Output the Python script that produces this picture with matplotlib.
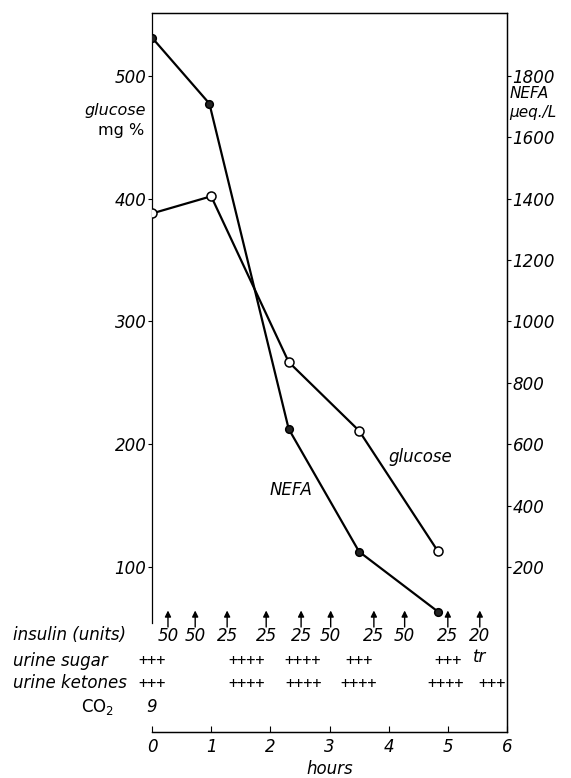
import matplotlib
matplotlib.use("Agg")
import matplotlib.pyplot as plt

plt.rcParams['font.family'] = ['DejaVu Sans']
plt.rcParams['font.size'] = 12

# values
glucose_hours = [0, 1.0, 2.31, 3.5, 4.83]
glucose = [388, 402, 267, 211, 113]          # mg %
nefa_hours = [0, 0.97, 2.31, 3.5, 4.83]
nefa = [1925, 1710, 650, 250, 55]            # ueq./L

insulin_hours = [0.27, 0.73, 1.27, 1.93, 2.52, 3.02, 3.75, 4.27, 5.0, 5.54]
insulin_units = [50, 50, 25, 25, 25, 50, 25, 50, 25, 20]
sugar_hours = [0, 1.6, 2.55, 3.5, 5.0]
sugar_marks = ['+++', '++++', '++++', '+++', '+++']
ketone_hours = [0, 1.6, 2.57, 3.5, 4.97, 5.74]
ketone_marks = ['+++', '++++', '++++', '++++', '++++', '+++']

W, H = 571, 778
fig = plt.figure(figsize=(W / 100, H / 100), dpi=100)
ax = fig.add_axes([152 / W, 1 - 732 / H, 355 / W, 719 / H])

lo, hi = -34.4, 551.3
ax.set_ylim(lo, hi)
ax.set_xlim(0, 6)
ax2 = ax.twinx()
ax2.set_ylim(200 + (lo - 100) * 4, 200 + (hi - 100) * 4)

ax.plot(glucose_hours, glucose, color='k', lw=1.6, marker='o', ms=6.5,
        mfc='white', mec='k', mew=1.1, zorder=3)
ax2.plot(nefa_hours, nefa, color='k', lw=1.6, marker='o', ms=5.5,
         mfc='#222222', mec='k', mew=1.1, zorder=3)

it = dict(style='italic')
ax.set_yticks([100, 200, 300, 400, 500])
ax.set_yticklabels(['100', '200', '300', '400', '500'], **it)
ax2.set_yticks(range(200, 1801, 200))
ax2.set_yticklabels([str(v) for v in range(200, 1801, 200)], **it)
ax.set_xticks(range(7))
ax.set_xticklabels([str(v) for v in range(7)], **it)
ax.tick_params(axis='y', direction='out', length=3, width=0.8, pad=1)
ax2.tick_params(axis='y', direction='out', length=3, width=0.8, pad=1)
ax.tick_params(axis='x', direction='in', length=4, width=0.8, pad=4)
ax.set_xlabel('hours', **it, labelpad=3)

for a in (ax, ax2):
    for s in a.spines.values():
        s.set_linewidth(0.9)
ax.spines['left'].set_bounds(54, hi)
ax2.spines['left'].set_visible(False)

def px(x, y):
    return x / W, 1 - y / H

# axis titles
fig.text(*px(146, 111), 'glucose', ha='right', va='center', fontsize=11.5, **it)
fig.text(*px(144, 131), 'mg %', ha='right', va='center', fontsize=11.5)
fig.text(*px(510, 93), 'NEFA', ha='left', va='center', fontsize=11, **it)
fig.text(*px(509, 112), 'μeq./L', ha='left', va='center', fontsize=11, **it)

# line labels
ax.text(4.0, 500 - (457 - 76) / 1.2275, 'glucose', ha='left', va='center', **it)
ax.text(1.99, 500 - (490 - 76) / 1.2275, 'NEFA', ha='left', va='center', **it)

# insulin arrows and doses
tr = ax.get_xaxis_transform()
for h, u in zip(insulin_hours, insulin_units):
    ax.annotate('', xy=(h, 0.169), xytext=(h, 0.146), xycoords=tr, textcoords=tr,
                arrowprops=dict(arrowstyle='-|>', color='k', lw=1, mutation_scale=9,
                                shrinkA=0, shrinkB=0))
    ax.text(h, 0.1335, str(u), transform=tr, ha='center', va='center', **it)
ax.text(5.54, 0.104, 'tr', transform=tr, ha='center', va='center', **it)

for h, m in zip(sugar_hours, sugar_marks):
    ax.text(h, 0.0988, m, transform=tr, ha='center', va='center', fontsize=11,
            family='DejaVu Sans Mono')
for h, m in zip(ketone_hours, ketone_marks):
    ax.text(h, 0.068, m, transform=tr, ha='center', va='center', fontsize=11,
            family='DejaVu Sans Mono')
ax.text(0, 0.0348, '9', transform=tr, ha='center', va='center', **it)

fig.text(*px(13, 635), 'insulin (units)', ha='left', va='center', **it)
fig.text(*px(13, 661), 'urine sugar', ha='left', va='center', **it)
fig.text(*px(13, 683), 'urine ketones', ha='left', va='center', **it)
fig.text(*px(98, 707), 'CO$_2$', ha='center', va='center')

fig.savefig('out.png', dpi=100)
